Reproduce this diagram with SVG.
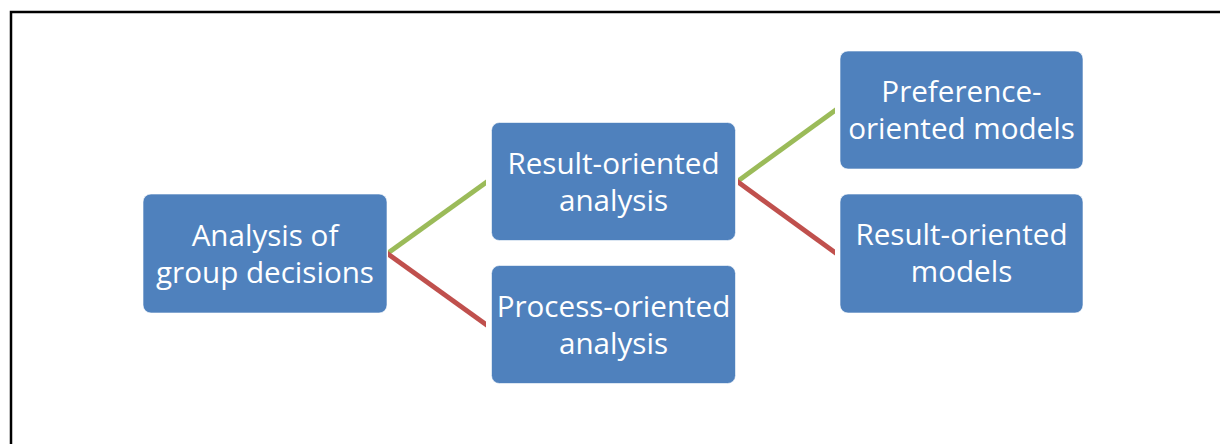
<svg xmlns="http://www.w3.org/2000/svg" width="1220" height="444" viewBox="0 0 1220 444">
<style>
.box{fill:#4F81BD;stroke:#ffffff;stroke-opacity:0.6;stroke-width:1}
.t{font-family:"Open Sans","Liberation Sans",sans-serif;font-size:29.6px;fill:#ffffff;text-anchor:middle}
.g{fill:#9BBB59}
.r{fill:#C0504D}
</style>
<rect x="0" y="0" width="1220" height="444" fill="#ffffff"/>
<path d="M11 444 V12 H1220" fill="none" stroke="#000000" stroke-width="2.5"/>
<g id="connectors">
<polygon class="g" points="388,250 486,179.5 486,185.5 388,256"/>
<polygon class="r" points="388,251 486,321.5 486,327.5 388,257"/>
<polygon class="g" points="738,178 835,107.5 835,113.5 738,184"/>
<polygon class="r" points="738,179 835,249.5 835,255.5 738,185"/>
</g>
<g id="n1">
<rect class="box" x="143" y="194" width="244" height="119" rx="8"/>
<text class="t" x="265" y="245.5">Analysis of</text>
<text class="t" x="265" y="282.5">group decisions</text>
</g>
<g id="n2">
<rect class="box" x="491.5" y="122.5" width="244" height="118" rx="8"/>
<text class="t" x="613.5" y="173.5">Result-oriented</text>
<text class="t" x="613.5" y="210.5">analysis</text>
</g>
<g id="n3">
<rect class="box" x="491.5" y="265.5" width="244" height="118" rx="8"/>
<text class="t" x="613.5" y="316.5">Process-oriented</text>
<text class="t" x="613.5" y="353.5">analysis</text>
</g>
<g id="n4">
<rect class="box" x="840" y="51" width="243" height="118" rx="8"/>
<text class="t" x="961.5" y="102">Preference-</text>
<text class="t" x="961.5" y="139">oriented models</text>
</g>
<g id="n5">
<rect class="box" x="840" y="194" width="243" height="119" rx="8"/>
<text class="t" x="961.5" y="245">Result-oriented</text>
<text class="t" x="961.5" y="282">models</text>
</g>
</svg>
